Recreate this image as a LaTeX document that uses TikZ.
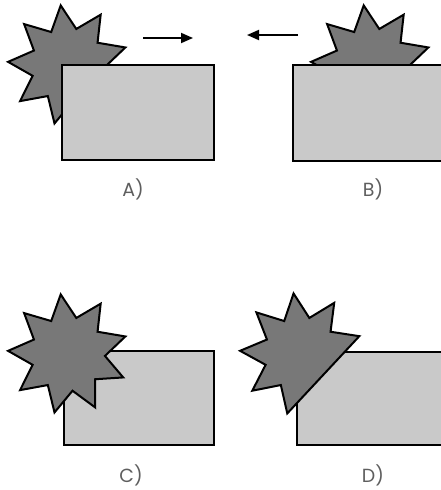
\documentclass[tikz,border=0pt]{standalone}
\usepackage{fontspec}
\setmainfont{Poppins}
\usetikzlibrary{arrows.meta}
\definecolor{starfill}{HTML}{787878}
\definecolor{boxfill}{HTML}{C9C9C9}
\definecolor{labelgray}{HTML}{5E5E5E}
\tikzset{
  boxshape/.style={draw=black, fill=boxfill, line width=2pt},
  starshape/.style={draw=black, fill=starfill, line width=2pt, line join=miter},
  movearrow/.style={draw=black, line width=1.8pt, -{Triangle[length=12pt,width=10pt]}},
  panellabel/.style={text=labelgray, font=\fontsize{19}{22}\selectfont, inner sep=0pt}
}
\begin{document}
\begin{tikzpicture}[x=1pt,y=-1pt]
\useasboundingbox (0,0) rectangle (440,490);
% ---------- A ----------
\path[starshape, shift={(68,65)}] plot[samples at={0,...,17}, variable=\k] ({-17-20*\k}:{ifthenelse(mod(\k,2)==0,60,37)}) -- cycle;
\node[boxshape, minimum width=152pt, minimum height=95pt, anchor=north west, inner sep=0pt] (boxA) at (61,64) {};
\coordinate (a1) at (143,38);
\coordinate (a2) at (193,38);
\draw[movearrow] (a1) -- (a2);
\node[panellabel] (labA) at (133,189) {A)};
% ---------- B ----------
\path[starshape, shift={(371,65)}] plot[samples at={0,...,17}, variable=\k] ({-17-20*\k}:{ifthenelse(mod(\k,2)==0,60,37)}) -- cycle;
\node[boxshape, minimum width=152pt, minimum height=96pt, anchor=north west, inner sep=0pt] (boxB) at (292,64) {};
\coordinate (b1) at (298,35);
\coordinate (b2) at (247,35);
\draw[movearrow] (b1) -- (b2);
\node[panellabel] (labB) at (373,189) {B)};
% ---------- C ----------
\node[boxshape, minimum width=150pt, minimum height=94pt, anchor=north west, inner sep=0pt] (boxC) at (63,350) {};
\path[starshape, shift={(68,354)}] plot[samples at={0,...,17}, variable=\k] ({-17-20*\k}:{ifthenelse(mod(\k,2)==0,60,37)}) -- cycle;
\node[panellabel] (labC) at (131,475) {C)};
% ---------- D ----------
\node[boxshape, minimum width=152pt, minimum height=93pt, anchor=north west, inner sep=0pt] (boxD) at (296,351) {};
\path[starshape, shift={(301,354)}] plot[samples at={0,...,12}, variable=\k] ({-17-20*\k}:{ifthenelse(mod(\k,2)==0,61,37)}) -- cycle;
\node[panellabel] (labD) at (373,475) {D)};
\end{tikzpicture}
\end{document}
